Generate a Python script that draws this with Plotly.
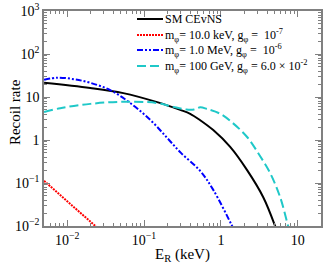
import plotly.graph_objects as go
import numpy as np

# log10(E_R / keV), log10(rate)
sm_logx = [-2.30, -1.70, -1.27, -0.83, -0.53, -0.40, -0.27, -0.10, 0.12, 0.34, 0.55, 0.70, 0.76]
sm_logy = [1.33, 1.21, 1.09, 0.88, 0.70, 0.61, 0.46, 0.23, -0.16, -0.70, -1.33, -1.98, -2.3]

red_logx = [-2.30, -1.64, -1.50]
red_logy = [-0.95, -2.00, -2.21]

blue_logx = [-2.30, -2.13, -1.90, -1.70, -1.44, -1.18, -0.92, -0.70, -0.52, -0.27, -0.10, 0.14, 0.20]
blue_logy = [1.40, 1.45, 1.41, 1.33, 1.16, 0.86, 0.47, 0.05, -0.30, -0.72, -1.16, -1.98, -2.2]

cyan_logx = [-2.30, -2.09, -1.70, -1.27, -0.83, -0.62, -0.45, -0.35, -0.27, -0.18, -0.01, 0.15, 0.34, 0.50, 0.64, 0.77, 0.87, 0.92]
cyan_logy = [0.65, 0.74, 0.84, 0.89, 0.86, 0.77, 0.71, 0.71, 0.76, 0.72, 0.61, 0.40, 0.07, -0.35, -0.77, -1.33, -1.98, -2.3]

names = [
    "SM CEvNS",
    "m<sub>φ</sub>= 10.0 keV, g<sub>φ</sub> =  10<sup>-7</sup>",
    "m<sub>φ</sub>= 1.0 MeV, g<sub>φ</sub> =  10<sup>-6</sup>",
    "m<sub>φ</sub>= 100 GeV, g<sub>φ</sub> = 6.0 × 10<sup>-2</sup>",
]
colors = ["black", "#ff0000", "#0000ff", "#1fc8c8"]
dashes = ["solid", "2px,1px", "6px,2px,2px,2px,2px,2px", "9px,4px"]

x_tickvals = [0.01, 0.1, 1, 10]
x_ticktext = ["10<sup>−2</sup>", "10<sup>−1</sup>", "1", "10"]
y_tickvals = [1e-2, 1e-1, 1, 10, 100, 1000]
y_ticktext = ["10<sup>−2</sup>", "10<sup>−1</sup>", "1", "10", "10<sup>2</sup>", "10<sup>3</sup>"]

SERIF = "Liberation Serif, Times New Roman, Times, serif"

def pw(a):
    return [10 ** v for v in a]

series = [(sm_logx, sm_logy, "spline"), (red_logx, red_logy, "linear"),
          (blue_logx, blue_logy, "spline"), (cyan_logx, cyan_logy, "spline")]

fig = go.Figure()
for (lx, ly, shp), nm, c, d in zip(series, names, colors, dashes):
    fig.add_trace(go.Scatter(x=pw(lx), y=pw(ly), mode="lines", name=nm, showlegend=False,
                             line=dict(color=c, width=2, dash=d, shape=shp)))

axis_common = dict(
    type="log", showgrid=False, zeroline=False, automargin=False,
    showline=True, linecolor="#808080", linewidth=1.5,
    ticks="inside", ticklen=6, tickcolor="#808080", tickwidth=1,
    mirror="allticks",
    tickfont=dict(family=SERIF, size=14, color="black"),
    minor=dict(ticks="inside", ticklen=3, tickcolor="#808080", dtick="D1", showgrid=False),
)

fig.update_xaxes(**axis_common, range=[np.log10(0.005), np.log10(20)],
                 tickvals=x_tickvals, ticktext=x_ticktext)
fig.update_yaxes(**axis_common, range=[-2, 3],
                 tickvals=y_tickvals, ticktext=y_ticktext)

fig.add_annotation(text="E<sub>R</sub> (keV)", xref="paper", yref="paper", x=0.5, y=0, yshift=-29,
                   showarrow=False, xanchor="center", yanchor="middle",
                   font=dict(family=SERIF, size=15, color="black"))
fig.add_annotation(text="Recoil rate", xref="paper", yref="paper", x=0, y=0.53, xshift=-29,
                   showarrow=False, xanchor="center", yanchor="middle", textangle=-90,
                   font=dict(family=SERIF, size=15, color="black"))

# legend drawn as key lines + labels (plot area: 277 x 215 px)
leg_x0, leg_x1, leg_tx = (137 - 44) / 277, (163 - 44) / 277, (163 - 44) / 277
leg_rows = [1 - (py - 11) / 215 for py in (19, 35, 50, 66)]
for nm, c, d, yy in zip(names, colors, dashes, leg_rows):
    fig.add_shape(type="line", xref="paper", yref="paper", x0=leg_x0, x1=leg_x1, y0=yy, y1=yy,
                  line=dict(color=c, width=2, dash=d))
    fig.add_annotation(text=nm, xref="paper", yref="paper", x=leg_tx, y=yy, showarrow=False,
                       xanchor="left", yanchor="middle",
                       font=dict(family=SERIF, size=12, color="black"))

fig.update_layout(
    width=332, height=267,
    margin=dict(l=44, r=11, t=11, b=41),
    paper_bgcolor="white", plot_bgcolor="white",
    showlegend=False,
)

fig.write_html("out.html", config={"displayModeBar": False},
               post_script="document.body.style.margin='0';")
